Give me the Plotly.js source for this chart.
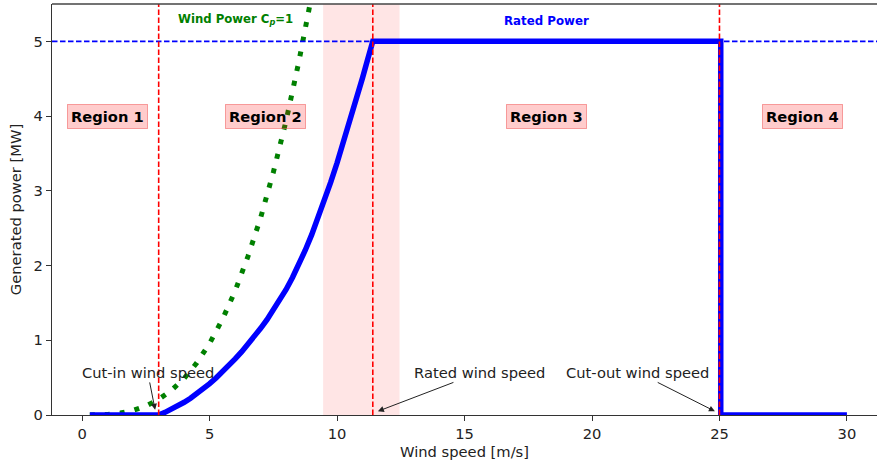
<!DOCTYPE html>
<html>
<head>
<meta charset="utf-8">
<script src="https://cdn.plot.ly/plotly-3.0.1.min.js"></script>
<style>html,body{margin:0;padding:0;background:#fff;overflow:hidden}#chart{width:877px;height:465px}</style>
</head>
<body>
<div id="chart"></div>
<script>
// Turbine power curve (blue)
const turbineSpeed = [0.3, 3.0, 3.25, 3.5, 3.75, 4.0, 4.25, 4.5, 4.75, 5.0, 5.25, 5.5, 5.75, 6.0, 6.25, 6.5, 6.75, 7.0, 7.25, 7.5, 7.75, 8.0, 8.25, 8.5, 8.75, 9.0, 9.25, 9.5, 9.75, 10.0, 10.25, 10.5, 10.75, 11.0, 11.2, 11.4, 25.05, 25.05, 30.0];
const turbinePower = [0.0, 0.0, 0.035, 0.075, 0.12, 0.17, 0.225, 0.285, 0.35, 0.42, 0.495, 0.575, 0.66, 0.75, 0.845, 0.945, 1.05, 1.16, 1.275, 1.40, 1.535, 1.68, 1.84, 2.015, 2.205, 2.41, 2.63, 2.865, 3.115, 3.375, 3.645, 3.925, 4.215, 4.515, 4.76, 5.0, 5.0, 0.0, 0.0];
// Wind power with Cp = 1 (green dotted)
const windSpeed = [0.3, 0.5, 1.0, 1.5, 2.0, 2.5, 3.0, 3.5, 4.0, 4.5, 5.0, 5.5, 6.0, 6.5, 7.0, 7.5, 8.0, 8.5, 9.0];
const windPower = [0.0002, 0.001, 0.008, 0.026, 0.062, 0.12, 0.21, 0.33, 0.49, 0.70, 0.96, 1.28, 1.66, 2.12, 2.64, 3.25, 3.94, 4.73, 5.61];
// Key speeds / levels
const cutIn = 3.0, rated = 11.4, cutOut = 25.0, ratedPower = 5.0;
const bandStart = 9.45, bandEnd = 12.45;
const regionNames = ["Region 1", "Region 2", "Region 3", "Region 4"];
const regionX = [1.0, 7.2, 18.2, 28.25];
const regionY = 4.0;
const xTicks = [0, 5, 10, 15, 20, 25, 30];
const yTicks = [0, 1, 2, 3, 4, 5];

const font = "DejaVu Sans, Verdana, sans-serif";
const textCol = "#222";
const fs = 14.7;

const traces = [
  {x: windSpeed, y: windPower, mode: "lines", line: {color: "#008000", width: 5, dash: "5px,10px"}, hoverinfo: "skip"},
  {x: turbineSpeed, y: turbinePower, mode: "lines", line: {color: "#0000ff", width: 5.5}, hoverinfo: "skip"}
];

const dash = "5.5px,2.5px";
const shapes = [
  {type: "rect", xref: "x", yref: "paper", x0: bandStart, x1: bandEnd, y0: 0, y1: 1, fillcolor: "rgba(255,0,0,0.1)", line: {width: 0}, layer: "below"},
  {type: "line", xref: "paper", yref: "y", x0: 0, x1: 1, y0: ratedPower, y1: ratedPower, line: {color: "#0000ff", width: 1.6, dash: dash}},
  {type: "line", xref: "x", yref: "paper", x0: cutIn, x1: cutIn, y0: 0, y1: 1, line: {color: "#ff0000", width: 1.6, dash: dash}},
  {type: "line", xref: "x", yref: "paper", x0: rated, x1: rated, y0: 0, y1: 1, line: {color: "#ff0000", width: 1.6, dash: dash}},
  {type: "line", xref: "x", yref: "paper", x0: cutOut, x1: cutOut, y0: 0, y1: 1, line: {color: "#ff0000", width: 1.6, dash: dash}},
  {type: "line", xref: "paper", yref: "paper", x0: 0, x1: 1, y0: 1, y1: 1, line: {color: "#444", width: 1.3}}
];

const annotations = regionNames.map((t, i) => ({
  x: regionX[i], y: regionY, xref: "x", yref: "y", text: "<b>" + t + "</b>", showarrow: false,
  font: {family: font, size: fs, color: "#000"}, bgcolor: "rgba(255,0,0,0.2)", bordercolor: "rgba(240,90,90,0.55)", borderwidth: 1, borderpad: 3
}));
annotations.push(
  {x: 6.0, y: 5.29, xref: "x", yref: "y", text: "<b>Wind Power C<sub><i>p</i></sub>=1</b>", showarrow: false, font: {family: font, size: 11.7, color: "#008000"}},
  {x: 18.2, y: 5.27, xref: "x", yref: "y", text: "<b>Rated Power</b>", showarrow: false, font: {family: font, size: 11.8, color: "#0000ff"}},
  {x: 2.86, y: 0.07, ax: 2.57, ay: 0.57, xref: "x", yref: "y", axref: "x", ayref: "y", text: "Cut-in wind speed", showarrow: true, arrowhead: 2, arrowsize: 1.2, arrowwidth: 1, arrowcolor: "#222", font: {family: font, size: fs, color: textCol}},
  {x: 11.6, y: 0.05, ax: 15.59, ay: 0.57, xref: "x", yref: "y", axref: "x", ayref: "y", text: "Rated wind speed", showarrow: true, arrowhead: 2, arrowsize: 1.2, arrowwidth: 1, arrowcolor: "#222", font: {family: font, size: fs, color: textCol}},
  {x: 24.82, y: 0.05, ax: 21.8, ay: 0.57, xref: "x", yref: "y", axref: "x", ayref: "y", text: "Cut-out wind speed", showarrow: true, arrowhead: 2, arrowsize: 1.2, arrowwidth: 1, arrowcolor: "#222", font: {family: font, size: fs, color: textCol}}
);

const layout = {
  width: 877, height: 465,
  margin: {l: 52, r: 0, t: 4, b: 50},
  paper_bgcolor: "#fff", plot_bgcolor: "#fff",
  showlegend: false,
  font: {family: font, size: fs, color: textCol},
  xaxis: {range: [-1.185, 31.18], tickvals: xTicks, ticktext: xTicks.map(String), showgrid: false, zeroline: false,
          showline: true, linecolor: "#333", linewidth: 1.3, ticks: "outside", ticklen: 5, tickcolor: "#333",
          tickfont: {family: font, size: fs, color: textCol},
          title: {text: "Wind speed [m/s]", font: {family: font, size: fs, color: textCol}, standoff: 5}},
  yaxis: {range: [0, 5.5], tickvals: yTicks, ticktext: yTicks.map(String), showgrid: false, zeroline: false,
          showline: true, linecolor: "#333", linewidth: 1.3, ticks: "outside", ticklen: 5, tickcolor: "#333",
          tickfont: {family: font, size: fs, color: textCol},
          title: {text: "Generated power [MW]", font: {family: font, size: fs, color: textCol}, standoff: 8}},
  shapes: shapes,
  annotations: annotations
};

Plotly.newPlot("chart", traces, layout, {displayModeBar: false, staticPlot: true});
</script>
</body>
</html>
